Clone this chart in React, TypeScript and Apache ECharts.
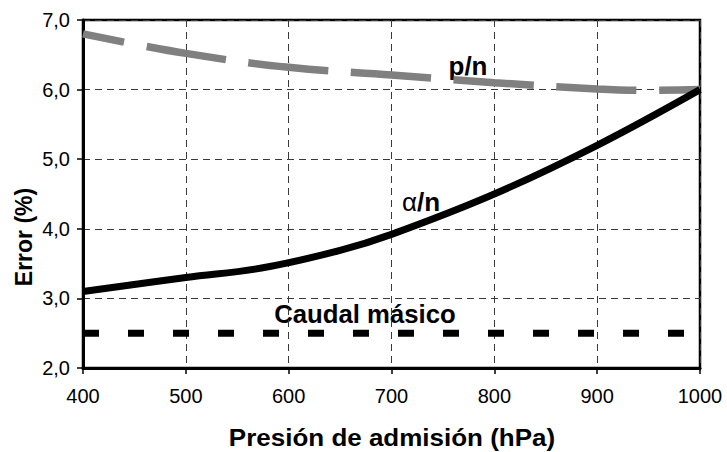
import React, { useEffect, useRef } from "react";
import * as echarts from "echarts";

// Intake pressure (hPa) and measurement error (%) for each estimation method
const alphaPressure = [400, 500, 575, 650, 700, 800, 900, 1000];
const alphaError = [3.1, 3.3, 3.44, 3.69, 3.92, 4.5, 5.2, 6.0];

const pPressure = [400, 500, 600, 700, 800, 900, 950, 1000];
const pError = [6.8, 6.52, 6.32, 6.21, 6.1, 6.01, 5.99, 6.0];

const massPressure = [400, 1000];
const massError = [2.5, 2.5];

const seriesLabels = { p: "p/n", alpha: "α/n", mass: "Caudal másico" };
const xTitle = "Presión de admisión (hPa)";
const yTitle = "Error (%)";

const FONT = "'Liberation Sans', Arial, sans-serif";

const pairs = (xs: number[], ys: number[]) => xs.map((x, i) => [x, ys[i]]);

export default function App() {
  const ref = useRef<HTMLDivElement>(null);

  useEffect(() => {
    if (!ref.current) return;
    const chart = echarts.init(ref.current, null, { renderer: "svg" });

    const gridLine = {
      show: true,
      lineStyle: { color: "#3a3a3a", width: 1, type: [7, 5] as number[] },
    };

    chart.setOption({
      animation: false,
      backgroundColor: "#ffffff",
      grid: {
        left: 83,
        top: 20,
        right: 27,
        bottom: 84,
        show: true,
        borderColor: "#000",
        borderWidth: 2.5,
        backgroundColor: "transparent",
      },
      xAxis: {
        type: "value",
        min: 400,
        max: 1000,
        interval: 100,
        axisLine: { show: true, lineStyle: { color: "#000", width: 3 } },
        axisTick: { show: true, inside: false, length: 6, lineStyle: { color: "#000", width: 1.5 } },
        axisLabel: {
          color: "#000",
          fontSize: 20,
          fontFamily: FONT,
          margin: 18,
          formatter: (v: number) => String(v),
        },
        splitLine: gridLine,
      },
      yAxis: {
        type: "value",
        min: 2,
        max: 7,
        interval: 1,
        axisLine: { show: true, lineStyle: { color: "#000", width: 3 } },
        axisTick: { show: true, inside: false, length: 6, lineStyle: { color: "#000", width: 1.5 } },
        axisLabel: {
          color: "#000",
          fontSize: 20,
          fontFamily: FONT,
          margin: 13,
          formatter: (v: number) => v.toFixed(1).replace(".", ","),
        },
        splitLine: gridLine,
      },
      series: [
        {
          name: seriesLabels.mass,
          type: "line",
          data: pairs(massPressure, massError),
          symbol: "none",
          lineStyle: { color: "#000", width: 7, type: [16, 29], cap: "butt" },
          z: 3,
        },
        {
          name: seriesLabels.p,
          type: "line",
          data: pairs(pPressure, pError),
          symbol: "none",
          smooth: 0.4,
          lineStyle: { color: "#808080", width: 7.5, type: [80, 23], dashOffset: 38, cap: "butt" },
          z: 3,
        },
        {
          name: seriesLabels.alpha,
          type: "line",
          data: pairs(alphaPressure, alphaError),
          symbol: "none",
          smooth: 0.4,
          lineStyle: { color: "#000", width: 7, cap: "butt" },
          z: 4,
        },
      ],
      graphic: [
        {
          type: "text",
          x: 468,
          y: 66,
          style: {
            text: seriesLabels.p,
            font: `bold 26px ${FONT}`,
            fill: "#000",
            align: "center",
            verticalAlign: "middle",
          },
        },
        {
          type: "text",
          x: 421,
          y: 202,
          style: {
            text: `{a|α}{b|/n}`,
            align: "center",
            verticalAlign: "middle",
            rich: {
              a: { font: `26px ${FONT}`, fill: "#000" },
              b: { font: `bold 26px ${FONT}`, fill: "#000" },
            },
          },
        },
        {
          type: "text",
          x: 365,
          y: 314,
          scaleX: 1.03,
          style: {
            text: seriesLabels.mass,
            font: `bold 25px ${FONT}`,
            fill: "#000",
            align: "center",
            verticalAlign: "middle",
          },
        },
        {
          type: "text",
          x: 392,
          y: 438,
          scaleX: 1.13,
          style: {
            text: xTitle,
            font: `bold 23px ${FONT}`,
            fill: "#000",
            align: "center",
            verticalAlign: "middle",
          },
        },
        {
          type: "text",
          x: 24,
          y: 237,
          rotation: Math.PI / 2,
          style: {
            text: yTitle,
            font: `bold 23px ${FONT}`,
            fill: "#000",
            align: "center",
            verticalAlign: "middle",
          },
        },
      ],
    });

    return () => chart.dispose();
  }, []);

  return (
    <div
      ref={ref}
      style={{ position: "fixed", left: 0, top: 0, width: 727, height: 452, background: "#fff" }}
    />
  );
}
